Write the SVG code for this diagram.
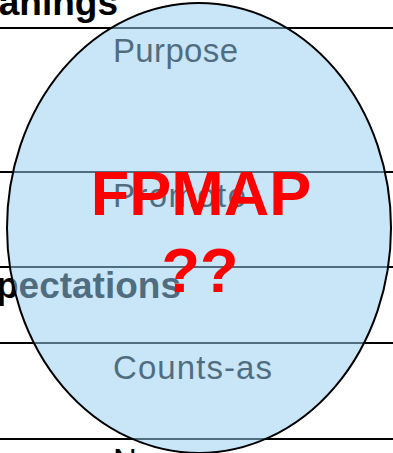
<svg xmlns="http://www.w3.org/2000/svg" width="393" height="453" viewBox="0 0 393 453">
<style>
.rule{stroke:#000;stroke-width:2;fill:none}
.head{font-family:"Liberation Sans",Arial,sans-serif;font-weight:bold;font-size:37px;fill:#000}
.item{font-family:"Liberation Sans",Arial,sans-serif;font-size:33px;fill:#000}
.big{font-family:"Liberation Sans",Arial,sans-serif;font-weight:bold;font-size:63px;fill:#ff0000;text-anchor:middle}
</style>
<g id="rules">
<line class="rule" x1="0" y1="28" x2="393" y2="28"/>
<line class="rule" x1="0" y1="172" x2="393" y2="172"/>
<line class="rule" x1="0" y1="267" x2="393" y2="267"/>
<line class="rule" x1="0" y1="343" x2="393" y2="343"/>
<line class="rule" x1="0" y1="439" x2="393" y2="439"/>
</g>
<g id="labels">
<text class="head" x="118" y="15" text-anchor="end">Meanings</text>
<text class="head" x="181" y="298" text-anchor="end">Expectations</text>
<text class="item" x="113" y="62" textLength="125">Purpose</text>
<text class="item" x="113" y="207" textLength="133">Promote</text>
<text class="item" x="113" y="379" textLength="159">Counts-as</text>
<text class="item" x="113" y="472">Norms</text>
</g>
<g id="fpmap-ellipse">
<ellipse cx="199" cy="228" rx="192" ry="225" fill="rgb(152,206,242)" fill-opacity="0.525" stroke="#000" stroke-width="2"/>
</g>
<g id="fpmap-label">
<text class="big" x="201" y="215">FPMAP</text>
<text class="big" x="200" y="292">??</text>
</g>
</svg>
